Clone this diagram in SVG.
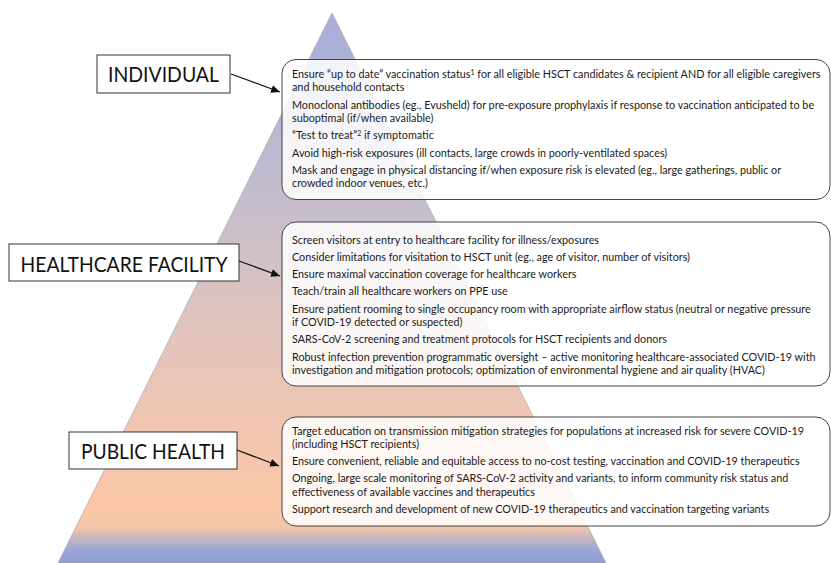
<svg xmlns="http://www.w3.org/2000/svg" width="831" height="563" viewBox="0 0 831 563">
<defs>
<linearGradient id="pyr" gradientUnits="userSpaceOnUse" x1="0" y1="13" x2="0" y2="563">
<stop offset="0" stop-color="#a6aedb"/>
<stop offset="0.35" stop-color="#c6bdcc"/>
<stop offset="0.55" stop-color="#dec4be"/>
<stop offset="0.78" stop-color="#f3c6b0"/>
<stop offset="0.9" stop-color="#fbc8a6"/>
<stop offset="0.935" stop-color="#f3c5aa"/>
<stop offset="0.975" stop-color="#9ca7d6"/>
<stop offset="1" stop-color="#8d9cd5"/>
</linearGradient>
<marker id="ah" markerUnits="userSpaceOnUse" markerWidth="10" markerHeight="8" refX="9" refY="4" orient="auto">
<path d="M0,0 L9,4 L0,8 z" fill="#111"/>
</marker>
</defs>
<style>
.lbl rect{fill:#fff;stroke:#333;stroke-width:1}
.lbl text{font-family:Lato,"Liberation Sans",sans-serif;font-size:22px;fill:#111;text-anchor:middle}
.box rect{fill:#fff;fill-opacity:0.86;stroke:#444;stroke-width:1}
.box text{font-family:Lato,"Liberation Sans",sans-serif;font-size:10.8px;fill:#1a1a1a}
.sup{font-size:7px}
#connectors line{stroke:#111;stroke-width:1.2;marker-end:url(#ah)}
</style>
<polygon id="pyramid" points="332,13 606,563 58,563" fill="url(#pyr)" stroke="#9c9ca6" stroke-width="0.6"/>
<g id="individual-label" class="lbl">
<rect x="97" y="55" width="133" height="38"/>
<text x="163.5" y="82" textLength="111" lengthAdjust="spacingAndGlyphs">INDIVIDUAL</text>
</g>
<g id="healthcare-label" class="lbl">
<rect x="9" y="244" width="230" height="37"/>
<text x="124" y="271.5" textLength="207" lengthAdjust="spacingAndGlyphs">HEALTHCARE FACILITY</text>
</g>
<g id="public-label" class="lbl">
<rect x="69" y="432" width="168" height="37"/>
<text x="153" y="459" textLength="144" lengthAdjust="spacingAndGlyphs">PUBLIC HEALTH</text>
</g>
<g id="individual-box" class="box">
<rect x="282" y="59.5" width="548" height="140" rx="14"/>
<text x="292" y="78">Ensure “up to date” vaccination status<tspan class="sup" dy="-3.5">1</tspan><tspan dy="3.5"> for all eligible HSCT candidates &amp; recipient AND for all eligible caregivers</tspan></text>
<text x="292" y="91.3">and household contacts</text>
<text x="292" y="108.6">Monoclonal antibodies (eg., Evusheld) for pre-exposure prophylaxis if response to vaccination anticipated to be</text>
<text x="292" y="121.9">suboptimal (if/when available)</text>
<text x="292" y="139.2">“Test to treat”<tspan class="sup" dy="-3.5">2</tspan><tspan dy="3.5"> if symptomatic</tspan></text>
<text x="292" y="156.5">Avoid high-risk exposures (ill contacts, large crowds in poorly-ventilated spaces)</text>
<text x="292" y="173.8">Mask and engage in physical distancing if/when exposure risk is elevated (eg., large gatherings, public or</text>
<text x="292" y="187.1">crowded indoor venues, etc.)</text>
</g>
<g id="healthcare-box" class="box">
<rect x="282" y="222" width="548" height="164" rx="14"/>
<text x="292" y="243.5">Screen visitors at entry to healthcare facility for illness/exposures</text>
<text x="292" y="260.8">Consider limitations for visitation to HSCT unit (eg., age of visitor, number of visitors)</text>
<text x="292" y="278.1">Ensure maximal vaccination coverage for healthcare workers</text>
<text x="292" y="295.4">Teach/train all healthcare workers on PPE use</text>
<text x="292" y="312.7">Ensure patient rooming to single occupancy room with appropriate airflow status (neutral or negative pressure</text>
<text x="292" y="326">if COVID-19 detected or suspected)</text>
<text x="292" y="343.3">SARS-CoV-2 screening and treatment protocols for HSCT recipients and donors</text>
<text x="292" y="360.6">Robust infection prevention programmatic oversight – active monitoring healthcare-associated COVID-19 with</text>
<text x="292" y="373.9">investigation and mitigation protocols; optimization of environmental hygiene and air quality (HVAC)</text>
</g>
<g id="public-box" class="box">
<rect x="282" y="417" width="548" height="109" rx="14"/>
<text x="292" y="434.5">Target education on transmission mitigation strategies for populations at increased risk for severe COVID-19</text>
<text x="292" y="447.8">(including HSCT recipients)</text>
<text x="292" y="465.1">Ensure convenient, reliable and equitable access to no-cost testing, vaccination and COVID-19 therapeutics</text>
<text x="292" y="482.4">Ongoing, large scale monitoring of SARS-CoV-2 activity and variants, to inform community risk status and</text>
<text x="292" y="495.7">effectiveness of available vaccines and therapeutics</text>
<text x="292" y="513">Support research and development of new COVID-19 therapeutics and vaccination targeting variants</text>
</g>
<g id="connectors">
<line x1="231" y1="74" x2="280" y2="92"/>
<line x1="239" y1="261" x2="280" y2="276"/>
<line x1="237" y1="450" x2="279" y2="466"/>
</g>
</svg>
